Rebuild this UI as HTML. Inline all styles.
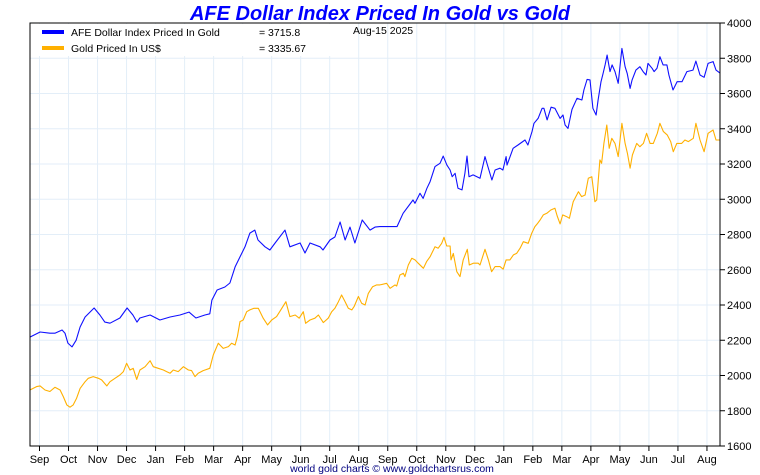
<!DOCTYPE html>
<html><head><meta charset="utf-8"><style>
html,body{margin:0;padding:0;background:#fff;}
svg{display:block;font-family:"Liberation Sans",Arial,sans-serif;}
</style></head><body>
<svg id="chart" width="760" height="475" viewBox="0 0 760 475">
<text x="380" y="20" text-anchor="middle" font-size="20" font-weight="bold" font-style="italic" fill="#0000ff">AFE Dollar Index Priced In Gold vs Gold</text>
<g id="grid"></g>
<g id="series"></g>
<g>
<rect x="31" y="24" width="320" height="32" fill="#fff"/>
<line x1="42" y1="32" x2="64" y2="32" stroke="#0000ff" stroke-width="4"/>
<text x="71" y="36" font-size="10.5">AFE Dollar Index Priced In Gold</text>
<text x="259" y="36" font-size="10.5">= 3715.8</text>
<line x1="42" y1="48" x2="64" y2="48" stroke="#ffb000" stroke-width="4"/>
<text x="71" y="52" font-size="10.5">Gold Priced In US$</text>
<text x="259" y="52" font-size="10.5">= 3335.67</text>
</g>
<text x="353" y="34" font-size="10.5">Aug-15  2025</text>
<rect x="30" y="23" width="690" height="423" fill="none" stroke="#000" stroke-width="1"/>
<g id="axes"></g>
<text x="392" y="472" text-anchor="middle" font-size="10.5" fill="#000080">world gold charts © www.goldchartsrus.com</text>
</svg>
<script>
const monthLabels=["Sep","Oct","Nov","Dec","Jan","Feb","Mar","Apr","May","Jun","Jul","Aug","Sep","Oct","Nov","Dec","Jan","Feb","Mar","Apr","May","Jun","Jul","Aug"];
const yTicks=[1600,1800,2000,2200,2400,2600,2800,3000,3200,3400,3600,3800,4000];
const afeT=[-0.33,0.02,0.36,0.53,0.78,0.88,0.98,1.12,1.26,1.40,1.57,1.88,2.08,2.25,2.43,2.77,3.02,3.22,3.36,3.46,3.81,4.15,4.50,4.84,5.15,5.39,5.70,5.87,5.94,6.12,6.39,6.56,6.74,6.91,7.08,7.25,7.42,7.53,7.77,7.94,8.12,8.46,8.63,8.98,9.15,9.32,9.67,9.77,10.01,10.18,10.36,10.53,10.70,10.87,11.12,11.39,11.56,
11.73,12.32,12.53,12.87,12.94,13.11,13.22,13.35,13.46,13.63,13.80,13.91,14.04,14.15,14.22,14.32,14.42,14.56,14.66,14.73,14.80,14.94,15.18,15.35,15.45,15.59,15.70,15.87,15.97,16.08,16.11,16.32,16.49,16.73,16.83,16.97,17.04,17.18,17.32,17.38,17.49,17.63,17.76,17.94,18.04,18.11,18.21,18.35,18.52,18.69,18.76,18.87,18.97,19.07,19.18,19.25,19.35,19.42,19.49,19.56,19.66,19.73,19.83,19.94,20.07,20.18,20.25,20.35,20.42,20.55,20.69,20.80,20.90,20.97,21.11,21.18,21.28,21.38,21.49,21.62,21.69,21.83,21.97,22.14,22.31,22.52,22.62,22.76,22.90,23.04,23.21,23.31,23.45];
const afeV=[2218,2247,2240,2240,2258,2240,2184,2162,2200,2275,2332,2383,2343,2303,2297,2326,2383,2343,2303,2326,2343,2315,2332,2343,2360,2326,2343,2350,2428,2485,2502,2525,2616,2673,2730,2808,2825,2769,2730,2712,2752,2825,2730,2752,2695,2752,2730,2712,2769,2786,2871,2769,2842,2752,2882,2825,2842,
2845,2845,2920,2996,2977,3034,3005,3062,3100,3185,3204,3245,3194,3166,3128,3147,3062,3053,3147,3245,3128,3138,3119,3242,3185,3109,3166,3176,3166,3242,3194,3289,3308,3336,3308,3384,3431,3459,3516,3516,3450,3522,3516,3459,3478,3421,3402,3510,3573,3563,3620,3680,3677,3516,3478,3563,3667,3714,3762,3818,3724,3762,3724,3658,3856,3752,3714,3629,3677,3733,3752,3724,3705,3771,3743,3724,3743,3809,3762,3762,3705,3620,3667,3667,3724,3733,3784,3705,3692,3771,3781,3733,3716];
const goldT=[-0.33,-0.10,0.02,0.19,0.36,0.53,0.71,0.82,0.94,1.05,1.16,1.28,1.40,1.57,1.68,1.85,2.03,2.14,2.32,2.43,2.60,2.77,2.89,3.00,3.12,3.23,3.35,3.46,3.64,3.81,3.92,4.09,4.27,4.38,4.50,4.61,4.78,4.96,5.13,5.24,5.36,5.47,5.64,5.87,5.99,6.16,6.33,6.51,6.62,6.74,6.82,6.91,7.02,7.14,7.25,7.39,7.54,7.71,7.86,8.00,8.17,8.35,8.49,8.63,8.81,8.95,9.09,9.17,9.32,9.49,9.61,9.78,9.95,10.07,10.18,10.30,10.41,10.53,10.64,10.76,10.84,10.99,11.10,11.22,11.33,11.48,11.62,
11.73,11.96,12.08,12.25,12.31,12.42,12.54,12.59,12.71,12.83,12.94,13.05,13.23,13.34,13.46,13.63,13.74,13.86,13.94,14.03,14.15,14.18,14.26,14.38,14.49,14.60,14.74,14.81,14.95,15.12,15.18,15.35,15.47,15.58,15.70,15.87,15.98,16.08,16.21,16.33,16.44,16.56,16.67,16.84,16.96,17.07,17.15,17.25,17.36,17.48,17.62,17.76,17.84,17.94,18.03,18.17,18.26,18.39,18.57,18.68,18.80,18.91,19.03,19.14,19.20,19.31,19.37,19.45,19.55,19.63,19.72,19.83,19.94,20.07,20.18,20.26,20.35,20.43,20.58,20.69,20.81,20.92,21.04,21.15,21.29,21.38,21.50,21.63,21.75,21.84,21.96,22.13,22.24,22.36,22.53,22.62,22.76,22.90,23.04,23.21,23.31,23.45];
const goldV=[1918,1937,1941,1918,1909,1933,1918,1880,1833,1820,1833,1871,1927,1965,1984,1994,1984,1975,1941,1965,1984,2003,2022,2069,2031,2041,1978,2031,2050,2084,2050,2041,2031,2022,2013,2031,2022,2050,2031,2028,1994,2013,2028,2041,2117,2183,2154,2164,2183,2173,2221,2306,2315,2362,2372,2381,2381,2325,2287,2315,2334,2381,2419,2334,2343,2325,2362,2296,2315,2325,2343,2300,2325,2362,2381,2419,2457,2419,2381,2372,2391,2448,2410,2400,2466,2504,2514,
2514,2523,2495,2514,2508,2570,2580,2561,2627,2665,2656,2637,2608,2646,2674,2731,2722,2750,2784,2735,2735,2656,2693,2589,2561,2656,2716,2627,2637,2637,2627,2716,2656,2589,2618,2618,2603,2656,2656,2684,2693,2722,2759,2750,2807,2845,2860,2882,2911,2920,2939,2949,2905,2860,2911,2901,2892,2986,3043,3015,3024,3119,3128,2986,2996,3223,3204,3317,3421,3289,3346,3317,3242,3431,3317,3261,3176,3251,3317,3298,3317,3374,3317,3317,3374,3431,3384,3365,3327,3270,3317,3317,3336,3327,3346,3431,3336,3270,3374,3393,3336,3336];

const NS="http://www.w3.org/2000/svg";
const X0=39.5,XS=29.02,YT=23,YB=446,VMIN=1600,VMAX=4000;
function xScale(t){return X0+t*XS;}
function yScale(v){return YB-(v-VMIN)/(VMAX-VMIN)*(YB-YT);}
function mk(tag,attrs,parent){const e=document.createElementNS(NS,tag);for(const k in attrs)e.setAttribute(k,attrs[k]);parent.appendChild(e);return e;}
const grid=document.getElementById('grid'),axes=document.getElementById('axes'),series=document.getElementById('series');
yTicks.forEach(v=>{
  const y=yScale(v);
  const gl=mk('line',{x1:30,x2:720,y1:y,y2:y,stroke:'#e3eef8','stroke-width':1},grid);
  
  
  mk('line',{x1:720,x2:725,y1:y,y2:y,stroke:'#000'},axes);
  const tx=mk('text',{x:727,y:y+4,'font-size':11},axes);
  tx.textContent=v;
  
  
});
monthLabels.forEach((m,i)=>{
  const x=xScale(i);
  const gl=mk('line',{x1:x,x2:x,y1:23,y2:446,stroke:'#e3eef8','stroke-width':1},grid);
  
  
  mk('line',{x1:x,x2:x,y1:446,y2:451,stroke:'#000'},axes);
  const tx=mk('text',{x:x,y:463,'font-size':11,'text-anchor':'middle'},axes);
  tx.textContent=m;
  
  
});
function drawLine(T,V,color,name){
  const pts=T.map((t,i)=>xScale(t).toFixed(1)+','+yScale(V[i]).toFixed(1)).join(' ');
  const p=mk('polyline',{points:pts,fill:'none',stroke:color,'stroke-width':1.1,'stroke-linejoin':'round'},series);
  
  
}
drawLine(goldT,goldV,'#ffb000','gold-usd-line');
drawLine(afeT,afeV,'#1010ff','afe-index-gold-line');
</script>
</body></html>
